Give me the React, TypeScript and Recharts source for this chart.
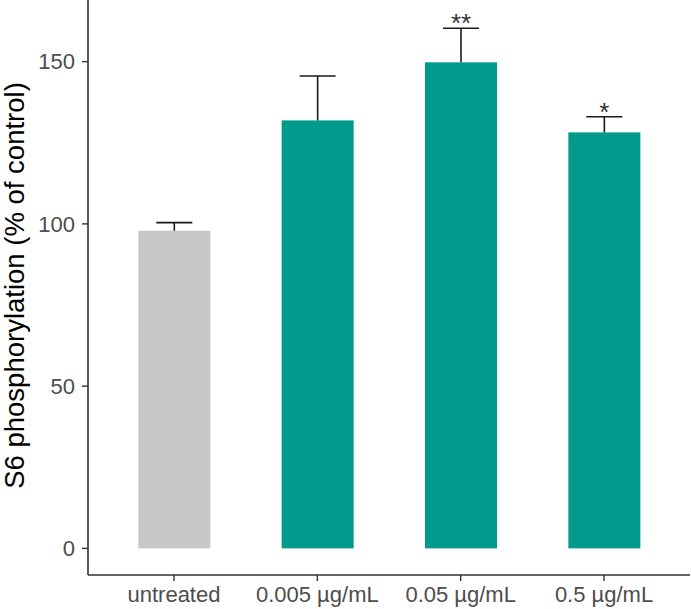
import React from "react";
import { BarChart, Bar, XAxis, YAxis, Cell } from "recharts";

// values
const categories = ["untreated", "0.005 µg/mL", "0.05 µg/mL", "0.5 µg/mL"];
const means = [97.9, 131.9, 149.8, 128.2];
const errors = [2.5, 13.7, 10.5, 4.8];
const sigLabels = ["", "", "**", "*"];
const yTicks = [0, 50, 100, 150];

const rows = categories.map((name, i) => ({
  name,
  mean: means[i],
  err: errors[i],
  sig: sigLabels[i],
}));

const barColors = ["#C8C8C8", "#019A8D", "#019A8D", "#019A8D"];
const FONT = "'Liberation Sans', Arial, sans-serif";

// bar + upper error whisker + significance stars
const BarWithError = (props: any) => {
  const { x, y, width, height, fill, payload } = props;
  const cx = x + width / 2;
  const pxPerUnit = height / payload.mean;
  const errY = y - payload.err * pxPerUnit;
  return (
    <g>
      <rect x={x} y={y} width={width} height={height} fill={fill} />
      <line x1={cx} x2={cx} y1={y} y2={errY} stroke="#1a1a1a" strokeWidth={1.6} />
      <line x1={cx - 18} x2={cx + 18} y1={errY} y2={errY} stroke="#1a1a1a" strokeWidth={1.6} />
      {payload.sig ? (
        <text x={cx} y={errY + 4} textAnchor="middle" fontSize={26} fontFamily={FONT} fill="#333">
          {payload.sig}
        </text>
      ) : null}
    </g>
  );
};

const YTitle = (props: any) => {
  const vb = props.viewBox || { x: 0, y: 0, height: 575 };
  const cy = vb.y + vb.height / 2 - 2;
  const tx = 23.5;
  return (
    <text
      x={tx}
      y={cy}
      transform={`rotate(-90 ${tx} ${cy})`}
      textAnchor="middle"
      fontSize={27.5}
      fontFamily={FONT}
      fill="#000"
    >
      S6 phosphorylation (% of control)
    </text>
  );
};

export default function App() {
  return (
    <div style={{ position: "absolute", left: 0, top: 0, background: "#fff" }}>
      <BarChart
        width={691}
        height={609}
        data={rows}
        margin={{ top: 0, right: 1, bottom: 0, left: 0 }}
      >
        <XAxis
          dataKey="name"
          height={34}
          interval={0}
          padding={{ left: 14.3, right: 14.3 }}
          tickSize={6}
          tickMargin={5}
          tick={{ fill: "#4d4d4d", fontSize: 22, fontFamily: FONT }}
          axisLine={{ stroke: "#333", strokeWidth: 1.6 }}
          tickLine={{ stroke: "#333", strokeWidth: 1.4 }}
        />
        <YAxis
          type="number"
          width={88}
          domain={[-8.2, 169]}
          ticks={yTicks}
          allowDataOverflow
          tickSize={6}
          tickMargin={7}
          tick={{ fill: "#4d4d4d", fontSize: 22, fontFamily: FONT }}
          axisLine={{ stroke: "#333", strokeWidth: 1.6 }}
          tickLine={{ stroke: "#333", strokeWidth: 1.4 }}
          label={{ content: YTitle }}
        />
        <Bar dataKey="mean" barSize={72} isAnimationActive={false} shape={<BarWithError />}>
          {rows.map((r, i) => (
            <Cell key={r.name} fill={barColors[i]} />
          ))}
        </Bar>
      </BarChart>
    </div>
  );
}
